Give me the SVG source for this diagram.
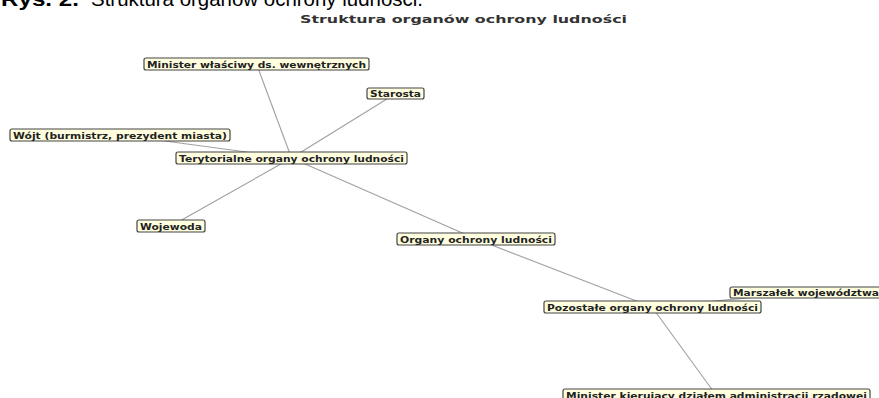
<svg xmlns="http://www.w3.org/2000/svg" width="879" height="398" viewBox="0 0 879 398">
<style>
.cap{font-family:"Liberation Sans",Arial,sans-serif;font-size:21px;fill:#000}
.title{font-family:"DejaVu Sans",sans-serif;font-weight:bold;font-size:11px;fill:#333}
.box{fill:#ffffe0;stroke:#444;stroke-width:1.2}
.lbl{font-family:"DejaVu Sans",sans-serif;font-weight:bold;font-size:9.5px;fill:#222}
.edge{stroke:#a0a0a0;stroke-width:1.1;fill:none}
</style>
<rect width="879" height="398" fill="#fff"/>
<text class="cap" x="1" y="5.5" font-weight="bold" textLength="78" lengthAdjust="spacingAndGlyphs">Rys. 2.</text>
<text class="cap" x="91" y="5.5" textLength="332" lengthAdjust="spacingAndGlyphs">Struktura organów ochrony ludności.</text>
<text class="title" x="300" y="22.5" textLength="327" lengthAdjust="spacingAndGlyphs">Struktura organów ochrony ludności</text>
<g id="connectors">
<line class="edge" x1="256.5" y1="64" x2="291.5" y2="158"/>
<line class="edge" x1="395" y1="94" x2="291.5" y2="158"/>
<line class="edge" x1="120" y1="135" x2="291.5" y2="158"/>
<line class="edge" x1="171" y1="226" x2="291.5" y2="158"/>
<line class="edge" x1="476" y1="239" x2="291.5" y2="158"/>
<line class="edge" x1="476" y1="239" x2="652" y2="307"/>
<line class="edge" x1="805" y1="292.5" x2="652" y2="307"/>
<line class="edge" x1="716" y1="395" x2="652" y2="307"/>
</g>
<g id="minister-wew">
<rect class="box" x="144" y="58" width="225" height="12" rx="2"/>
<text class="lbl" x="147" y="67.5" textLength="219" lengthAdjust="spacingAndGlyphs">Minister właściwy ds. wewnętrznych</text>
</g>
<g id="starosta">
<rect class="box" x="367" y="88" width="57" height="11" rx="2"/>
<text class="lbl" x="370" y="97" textLength="51" lengthAdjust="spacingAndGlyphs">Starosta</text>
</g>
<g id="wojt">
<rect class="box" x="10" y="129" width="220" height="12" rx="2"/>
<text class="lbl" x="13" y="138.5" textLength="214" lengthAdjust="spacingAndGlyphs">Wójt (burmistrz, prezydent miasta)</text>
</g>
<g id="terytorialne">
<rect class="box" x="176" y="152" width="231" height="12" rx="2"/>
<text class="lbl" x="179" y="161.5" textLength="225" lengthAdjust="spacingAndGlyphs">Terytorialne organy ochrony ludności</text>
</g>
<g id="wojewoda">
<rect class="box" x="137" y="220" width="68" height="12" rx="2"/>
<text class="lbl" x="140" y="229.5" textLength="62" lengthAdjust="spacingAndGlyphs">Wojewoda</text>
</g>
<g id="organy">
<rect class="box" x="397" y="233" width="158" height="12" rx="2"/>
<text class="lbl" x="400" y="242.5" textLength="152" lengthAdjust="spacingAndGlyphs">Organy ochrony ludności</text>
</g>
<g id="pozostale">
<rect class="box" x="544" y="301" width="217" height="12" rx="2"/>
<text class="lbl" x="547" y="310.5" textLength="211" lengthAdjust="spacingAndGlyphs">Pozostałe organy ochrony ludności</text>
</g>
<g id="marszalek">
<rect class="box" x="730" y="287" width="155" height="11" rx="2"/>
<text class="lbl" x="733" y="296" textLength="146" lengthAdjust="spacingAndGlyphs">Marszałek województwa</text>
</g>
<g id="minister-kier">
<rect class="box" x="563" y="389" width="307" height="12" rx="2"/>
<text class="lbl" x="566" y="398.5" textLength="301" lengthAdjust="spacingAndGlyphs">Minister kierujący działem administracji rządowej</text>
</g>
</svg>
